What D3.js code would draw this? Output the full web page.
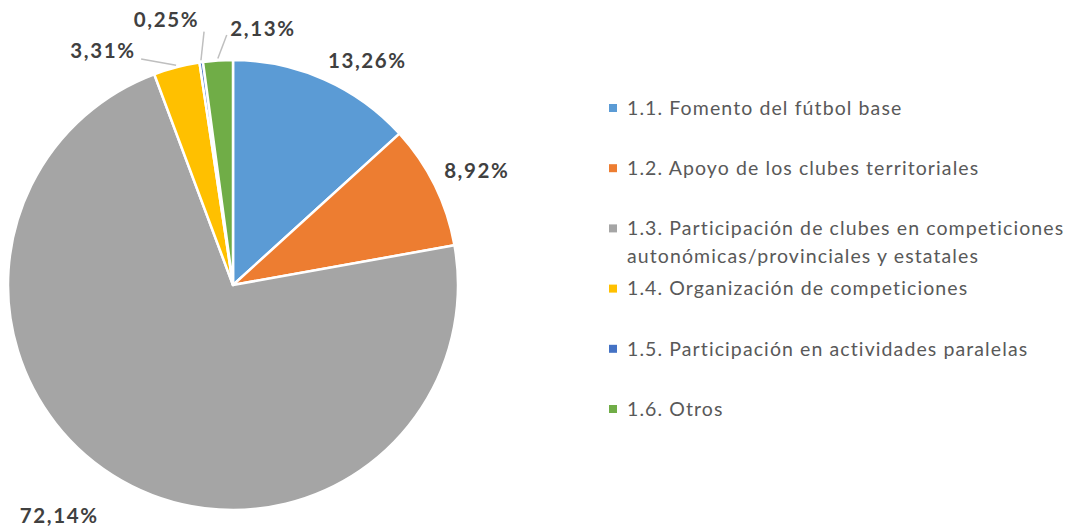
<!DOCTYPE html>
<html>
<head>
<meta charset="utf-8">
<script src="https://cdn.jsdelivr.net/npm/d3@7"></script>
<style>
  body { margin: 0; background: #fff; }
  svg { display: block; }
</style>
</head>
<body>
<div id="chart"></div>
<script>
// data
const categories = [
  "1.1. Fomento del fútbol base",
  "1.2. Apoyo de los clubes territoriales",
  "1.3. Participación de clubes en competiciones|autonómicas/provinciales y estatales",
  "1.4. Organización de competiciones",
  "1.5. Participación en actividades paralelas",
  "1.6. Otros",
];
const values = [13.26, 8.92, 72.14, 3.31, 0.25, 2.13];
const labels = ["13,26%", "8,92%", "72,14%", "3,31%", "0,25%", "2,13%"];
const colors = ["#5B9BD5", "#ED7D31", "#A5A5A5", "#FFC000", "#4472C4", "#70AD47"];

// label placement tweaks (degrees shift from slice mid angle, radius)
const labelShift = [7.1, 1.2, 7.3, -14.5, -6.0, 10.5];
const labelRadius = [261, 269, 289, 268, 273, 258];
// leader line ends (shift deg, radius); null = no leader
const leaderEnd = [null, null, null, [-7.6, 244], [1.6, 255], [2.4, 250]];

const width = 1071, height = 527;
const cx = 233, cy = 285, r = 225;

const svg = d3.select("#chart").append("svg")
  .attr("width", width).attr("height", height);

const pie = d3.pie().sort(null).value((d) => d);
const arcs = pie(values);
const arc = d3.arc().innerRadius(0).outerRadius(r);

const g = svg.append("g").attr("transform", `translate(${cx},${cy})`);

g.selectAll("path.slice")
  .data(arcs)
  .join("path")
  .attr("class", "slice")
  .attr("d", arc)
  .attr("fill", (d, i) => colors[i])
  .attr("stroke", "#fff")
  .attr("stroke-width", 2.5)
  .attr("stroke-linejoin", "round");

const rad = (deg) => (deg * Math.PI) / 180;
const polar = (a, rr) => [Math.sin(a) * rr, -Math.cos(a) * rr];
const mid = (d) => (d.startAngle + d.endAngle) / 2;

// leader lines
g.selectAll("line.leader")
  .data(arcs.filter((d, i) => leaderEnd[i]))
  .join("line")
  .attr("class", "leader")
  .each(function (d) {
    const i = d.index;
    const p0 = polar(mid(d), r + 2);
    const p1 = polar(mid(d) + rad(leaderEnd[i][0]), leaderEnd[i][1]);
    d3.select(this)
      .attr("x1", p0[0]).attr("y1", p0[1])
      .attr("x2", p1[0]).attr("y2", p1[1]);
  })
  .attr("stroke", "#BFBFBF")
  .attr("stroke-width", 1.5);

// data labels
g.selectAll("text.lbl")
  .data(arcs)
  .join("text")
  .attr("class", "lbl")
  .attr("transform", (d, i) => {
    const p = polar(mid(d) + rad(labelShift[i]), labelRadius[i]);
    return `translate(${p[0]},${p[1]})`;
  })
  .attr("text-anchor", "middle")
  .attr("dy", "0.35em")
  .attr("font-family", "Lato, 'Open Sans', sans-serif")
  .attr("font-weight", "bold")
  .attr("font-size", "20.5px")
  .attr("letter-spacing", "1.6px")
  .attr("fill", "#404040")
  .text((d, i) => labels[i]);

// legend
const rowY = d3.scalePoint().domain(categories).range([108, 409]);
const legend = svg.append("g")
  .selectAll("g")
  .data(categories)
  .join("g")
  .attr("transform", (d) => `translate(613,${rowY(d)})`);

legend.append("rect")
  .attr("x", -4).attr("y", -4)
  .attr("width", 8).attr("height", 8)
  .attr("fill", (d, i) => colors[i]);

legend.append("text")
  .attr("x", 14)
  .attr("font-family", "Lato, 'Open Sans', sans-serif")
  .attr("font-size", "19.5px")
  .attr("letter-spacing", "1.1px")
  .attr("fill", "#595959")
  .selectAll("tspan")
  .data((d) => d.split("|"))
  .join("tspan")
  .attr("x", 14)
  .attr("y", (d, j) => j * 28)
  .attr("dy", "0.35em")
  .text((d) => d);
</script>
</body>
</html>
